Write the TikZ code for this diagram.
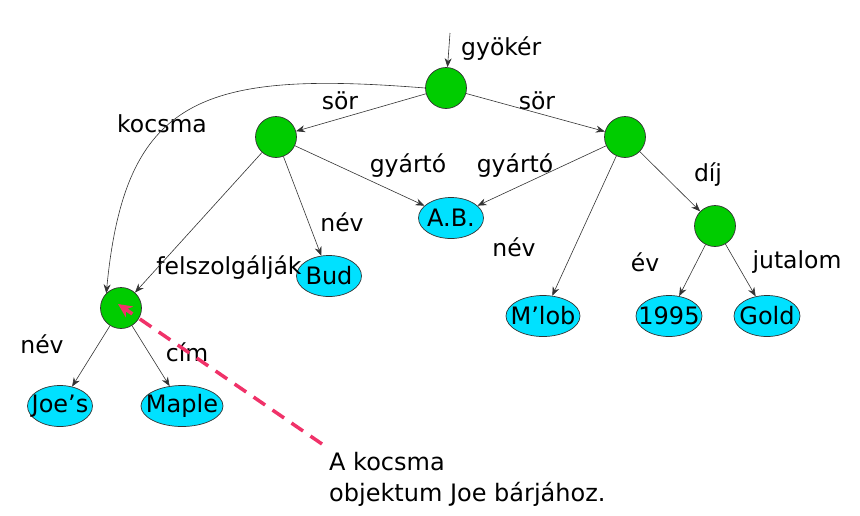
\documentclass[tikz,border=0pt]{standalone}
\usepackage{fontspec}
\setmainfont{DejaVu Sans}
\usetikzlibrary{arrows.meta,shapes.geometric}
\definecolor{objgreen}{RGB}{0,204,0}
\definecolor{valcyan}{RGB}{0,225,255}
\definecolor{notepink}{RGB}{240,50,105}
\tikzset{
  obj/.style={circle,draw=black!80,line width=0.7pt,fill=objgreen,minimum size=41pt,inner sep=0pt},
  val/.style={ellipse,draw=black!80,line width=0.7pt,fill=valcyan,minimum height=41pt,inner sep=0pt,
    label={[inner sep=0pt,font=\fontsize{24}{28}\selectfont]center:#1}},
  lbl/.style={inner sep=0pt,font=\fontsize{23.5}{28}\selectfont},
  edge/.style={-{Stealth[length=9pt,width=7pt]},line width=0.6pt,draw=black!80},
}
\begin{document}
\begin{tikzpicture}[x=1pt,y=-1pt]
\useasboundingbox (0,0) rectangle (860,515);
% objects
\node[obj] (root) at (446,88) {};
\node[obj] (bud) at (276,137) {};
\node[obj] (mlob) at (625,137) {};
\node[obj] (prize) at (715,226) {};
\node[obj] (joe) at (121,308) {};
% values
\node[val={A.B.},minimum width=65pt] (ab) at (451,218) {};
\node[val={Bud},minimum width=65pt] (budv) at (329,276) {};
\node[val={M’lob},minimum width=74pt] (mlobv) at (543,316) {};
\node[val={1995},minimum width=66pt] (y1995) at (669,316) {};
\node[val={Gold},minimum width=66pt] (gold) at (767,316) {};
\node[val={Joe’s},minimum width=65pt] (joes) at (60,406) {};
\node[val={Maple},minimum width=82pt] (maple) at (182,406) {};
% labels
\coordinate (rootin) at (450,33);
\node[lbl,anchor=west] (lroot) at (461,49) {gyökér};
\node[lbl] (lsor1) at (340,101) {sör};
\node[lbl] (lsor2) at (537,101) {sör};
\node[lbl] (lkocsma) at (162,124) {kocsma};
\node[lbl] (lgy1) at (408,166) {gyártó};
\node[lbl] (lgy2) at (515,166) {gyártó};
\node[lbl] (ldij) at (708,175) {díj};
\node[lbl] (lnev1) at (342,222) {név};
\node[lbl] (lnev2) at (514,247) {név};
\node[lbl] (lev) at (645,262) {év};
\node[lbl] (ljut) at (797,262) {jutalom};
\node[lbl] (lfel) at (229,268) {felszolgálják};
\node[lbl] (lnev3) at (42,344) {név};
\node[lbl] (lcim) at (187,352) {cím};
% edges
\draw[edge] (rootin) -- (root);
\draw[edge] (root) -- (bud);
\draw[edge] (root) -- (mlob);
\draw[edge] (root.west) .. controls (200,70) and (125,98) .. (joe.north west);
\draw[edge] (bud) -- (ab);
\draw[edge] (bud) -- (budv);
\draw[edge] (bud) -- (joe);
\draw[edge] (mlob) -- (ab);
\draw[edge] (mlob) -- (mlobv);
\draw[edge] (mlob) -- (prize);
\draw[edge] (prize) -- (y1995);
\draw[edge] (prize) -- (gold);
\draw[edge] (joe) -- (joes);
\draw[edge] (joe) -- (maple);
% note
\node[lbl,anchor=north west,align=left,font=\fontsize{24}{31}\selectfont] (note) at (329,452) {A kocsma\\objektum Joe bárjához.};
\coordinate (notestart) at (322,444);
\coordinate (notetip) at (118,304);
\draw[notepink,line width=3.5pt,dash pattern=on 14pt off 9pt,-{Stealth[length=14pt,width=13pt]}] (notestart) -- (notetip);
\end{tikzpicture}
\end{document}
